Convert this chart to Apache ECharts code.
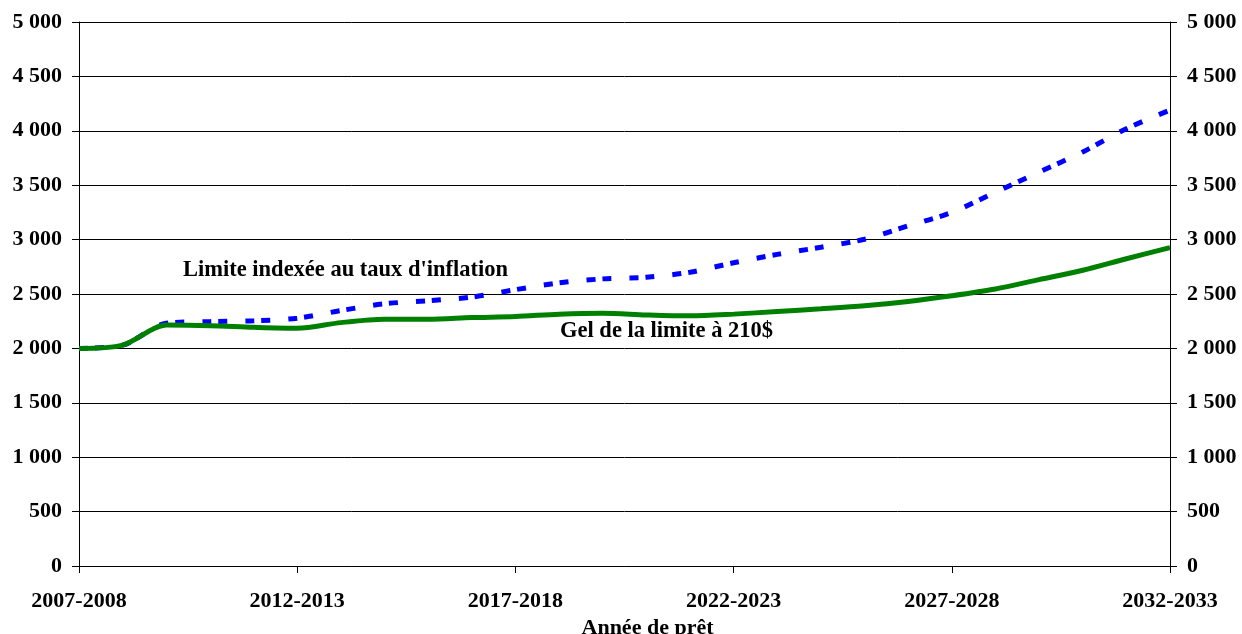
<!DOCTYPE html>
<html>
<head>
<meta charset="utf-8">
<script src="https://cdn.jsdelivr.net/npm/echarts@6/dist/echarts.min.js"></script>
<style>
  html, body { margin: 0; padding: 0; background: #fff; }
  #chart { width: 1242px; height: 634px; }
</style>
</head>
<body>
<div id="chart"></div>
<script>
// Loan years 2007-2008 .. 2032-2033
const years = [];
for (let y = 2007; y <= 2032; y++) years.push(y + '-' + (y + 1));

// Limit indexed to inflation ($)
const indexedLimit = [2000, 2030, 2231, 2246, 2253, 2278, 2348, 2410, 2438, 2472,
  2540, 2602, 2639, 2654, 2700, 2787, 2864, 2930, 3003, 3126,
  3250, 3435, 3620, 3806, 4019, 4191];

// Limit frozen at 210$ ($)
const frozenLimit = [2000, 2030, 2214, 2209, 2194, 2185, 2237, 2268, 2268, 2283,
  2293, 2315, 2324, 2308, 2299, 2315, 2339, 2364, 2392, 2432,
  2484, 2546, 2632, 2718, 2824, 2926];

const yTicks = { min: 0, max: 5000, interval: 500 };

const seriesNames = {
  indexed: "Limite indexée au taux d'inflation",
  frozen: 'Gel de la limite à 210$'
};

const fontFamily = '"Liberation Serif", "Times New Roman", serif';

function fmt(v) {
  return String(v).replace(/\B(?=(\d{3})+(?!\d))/g, ' ');
}

const axisText = { fontFamily, fontWeight: 'bold', fontSize: 22, color: '#000' };

function yAxis(position) {
  return {
    type: 'value',
    position,
    min: yTicks.min, max: yTicks.max, interval: yTicks.interval,
    axisLine: { show: true, lineStyle: { color: '#000', width: 1 } },
    axisTick: { show: true, length: 7, lineStyle: { color: '#000' } },
    axisLabel: Object.assign({ margin: 17, formatter: fmt }, axisText),
    splitLine: { show: position === 'left', lineStyle: { color: '#000', width: 1 } }
  };
}

const chart = echarts.init(document.getElementById('chart'), null, { renderer: 'canvas' });
chart.setOption({
  animation: false,
  backgroundColor: '#fff',
  grid: { left: 79, right: 72, top: 22, bottom: 68, containLabel: false, outerBoundsMode: 'none' },
  xAxis: {
    type: 'category',
    data: years,
    boundaryGap: false,
    name: 'Année de prêt',
    nameLocation: 'middle',
    nameGap: 44,
    nameTextStyle: Object.assign({ padding: [0, 0, 0, 46] }, axisText),
    axisLine: { lineStyle: { color: '#000', width: 1 } },
    axisTick: { show: true, interval: 4, length: 7, lineStyle: { color: '#000' } },
    axisLabel: Object.assign({ interval: 4, margin: 24 }, axisText),
    splitLine: { show: false }
  },
  yAxis: [yAxis('left'), yAxis('right')],
  series: [
    {
      name: seriesNames.indexed,
      type: 'line',
      data: indexedLimit,
      smooth: 0.3,
      symbol: 'none',
      lineStyle: { color: '#0000ff', width: 5, type: [9, 7, 9, 18] },
      z: 2
    },
    {
      name: seriesNames.frozen,
      type: 'line',
      data: frozenLimit,
      smooth: 0.3,
      symbol: 'none',
      lineStyle: { color: '#008000', width: 5 },
      z: 3
    }
  ],
  graphic: [
    {
      type: 'text', left: 183, top: 259,
      style: { text: seriesNames.indexed, font: 'bold 22.5px ' + fontFamily, fill: '#000' }
    },
    {
      type: 'text', left: 560, top: 320,
      style: { text: seriesNames.frozen, font: 'bold 22.5px ' + fontFamily, fill: '#000' }
    }
  ]
});
</script>
</body>
</html>
